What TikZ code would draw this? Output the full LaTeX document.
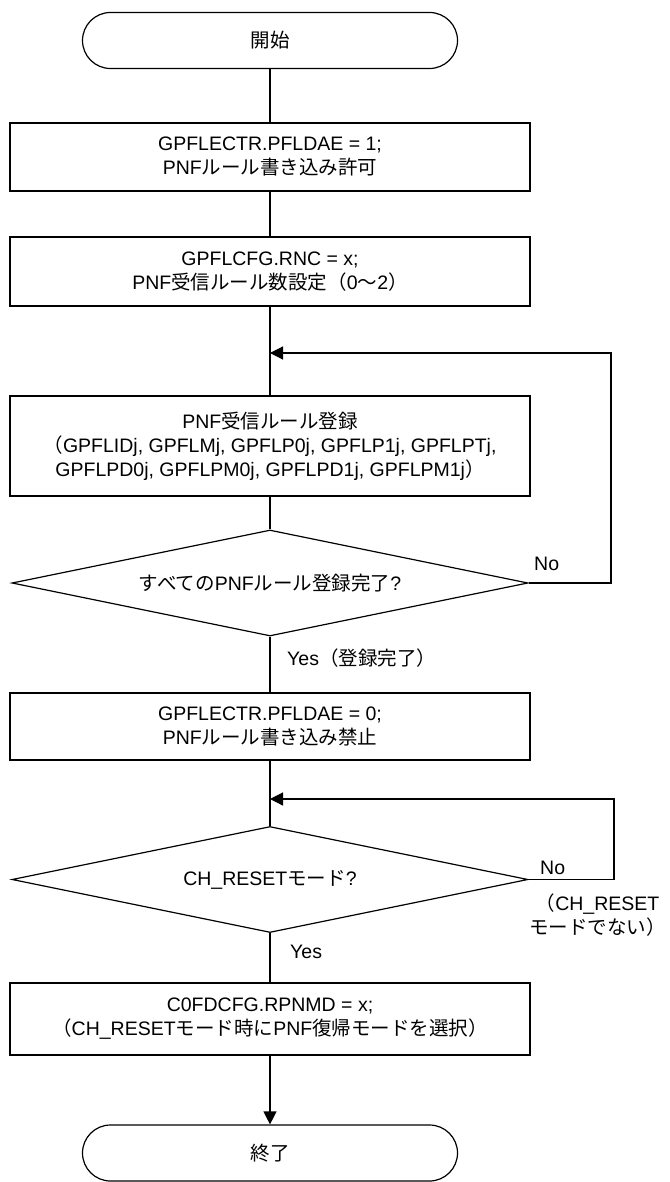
\documentclass[tikz,border=0pt]{standalone}
\usepackage{fontspec}
\setmainfont{Liberation Sans}
\newfontfamily\jp{Noto Sans CJK JP}
\newcommand{\J}[1]{{\jp #1}}
\usetikzlibrary{shapes.geometric,arrows.meta}
\begin{document}
\begin{tikzpicture}[x=1pt,y=-1pt,
  every node/.style={font=\fontsize{19.5}{24}\selectfont},
  line/.style={line width=1.2pt, draw=black},
  term/.style={line, rectangle, rounded corners=28pt, minimum width=375pt, minimum height=56pt, inner sep=0pt, align=center},
  proc/.style={line, rectangle, minimum width=520pt, inner sep=0pt, align=center},
  dec/.style={line, diamond, minimum width=516pt, minimum height=106pt, aspect=4.87, inner sep=0pt, align=center},
  arr/.style={line, -{Triangle[length=13pt,width=13pt]}},
  lbl/.style={inner sep=0pt, align=center}]
\useasboundingbox (0,0) rectangle (669,1182);
\node[term] (start) at (270,40.5) {\J{開始}};
\node[proc, minimum height=68pt] (b1) at (270,157) {GPFLECTR.PFLDAE = 1;\\PNF\J{ルール書き込み許可}};
\node[proc, minimum height=69pt] (b2) at (270,271.5) {GPFLCFG.RNC = x;\\PNF\J{受信ルール数設定（}0\J{〜}2\J{）}};
\coordinate (m1) at (270,353);
\node[proc, minimum height=100pt] (b3) at (270,446) {PNF\J{受信ルール登録}\\\J{（}GPFLIDj, GPFLMj, GPFLP0j, GPFLP1j, GPFLPTj,\\GPFLPD0j, GPFLPM0j, GPFLPD1j, GPFLPM1j\J{）}};
\node[dec] (d1) at (270,583) {\J{すべての}PNF\J{ルール登録完了}?};
\node[proc, minimum height=67pt] (b4) at (270,726.5) {GPFLECTR.PFLDAE = 0;\\PNF\J{ルール書き込み禁止}};
\coordinate (m2) at (270,799);
\node[dec] (d2) at (270,879.5) {CH\_RESET\J{モード}?};
\node[proc, minimum height=72pt] (b5) at (270,1019) {C0FDCFG.RPNMD = x;\\\J{（}CH\_RESET\J{モード時に}PNF\J{復帰モードを選択）}};
\node[term] (end) at (270,1153) {\J{終了}};
% connectors
\draw[line] (start) -- (b1);
\draw[line] (b1) -- (b2);
\draw[line] (b2) -- (b3);
\draw[line] (b3) -- (d1);
\draw[line] (d1) -- (b4);
\draw[line] (b4) -- (d2);
\draw[line] (d2) -- (b5);
\draw[arr] (b5) -- (end);
\draw[arr] (d1.east) -- (611,583) |- (m1);
\draw[arr] (d2.east) -- (614,879.5) |- (m2);
% labels
\node[lbl, anchor=west] (no1) at (534,564) {No};
\node[lbl, anchor=west] (yes1) at (287,658) {Yes\J{（登録完了）}};
\node[lbl, anchor=west] (no2) at (540,868) {No};
\node[lbl, anchor=east] (no2b) at (666,915) {\J{（}CH\_RESET\\\J{モードでない）}};
\node[lbl, anchor=west] (yes2) at (290,952) {Yes};
\end{tikzpicture}
\end{document}
